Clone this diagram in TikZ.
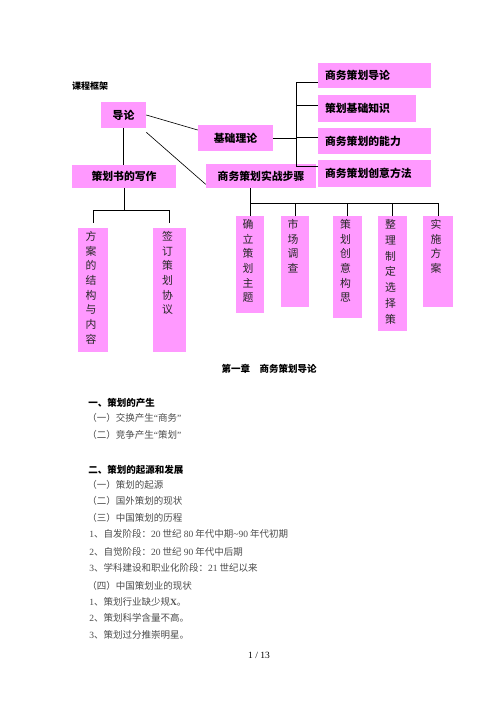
\documentclass[tikz,border=0pt]{standalone}
\usepackage{fontspec}
\setmainfont{Noto Sans CJK SC}
\newfontfamily\timesf{Liberation Serif}
\usepackage{tikz}
\usetikzlibrary{calc}
\definecolor{boxpink}{HTML}{FF99FF}
\definecolor{bodygray}{gray}{0.3}
\newcommand{\tnr}[1]{{\timesf #1}}

\begin{document}
\begin{tikzpicture}[x=1.2pt, y=-1.2pt, line width=0.75pt,
        box/.style={fill=boxpink, inner sep=0pt, font=\fontsize{13pt}{15pt}\selectfont\bfseries},
        rbox/.style={box, align=left, inner xsep=8.4pt},
        vbox/.style={fill=boxpink, inner sep=0pt},
        vtext/.style={anchor=north, align=center, inner sep=0pt, xshift=-2.4pt, yshift=-4pt,
            text=black!85, font=\fontsize{13pt}{17.6pt}\selectfont},
        body/.style={anchor=west, inner sep=0pt, text=bodygray, font=\fontsize{11.4pt}{13pt}\selectfont},
        bhead/.style={body, text=black, font=\fontsize{11.4pt}{13pt}\selectfont\bfseries}]
    \fill[white] (0,0) rectangle (496,702);
    \useasboundingbox (0,0) rectangle (496,702);

    \node[bhead, anchor=center, font=\fontsize{10.8pt}{12pt}\selectfont\bfseries] (kuangjia) at (90,86) {课程框架};

    % top row
    \node[box, minimum width=54pt, minimum height=31.2pt] (daolun) at (123.5,115) {导论};
    \node[box, minimum width=90pt, minimum height=31.2pt] (jichu) at (235.5,138) {基础理论};
    \node[box, minimum width=124.8pt, minimum height=27.6pt] (xiezuo) at (124,176.5) {策划书的写作};
    \node[box, minimum width=132pt, minimum height=28.8pt] (shizhan) at (261,176) {商务策划实战步骤};

    \node[rbox, text width=118.8pt, minimum height=30pt] (r1) at (374.5,75.5) {商务策划导论};
    \node[rbox, text width=100.8pt, minimum height=32.4pt] (r2) at (367,108.5) {策划基础知识};
    \node[rbox, text width=118.8pt, minimum height=31.2pt] (r3) at (374.5,141) {商务策划的能力};
    \node[rbox, text width=118.8pt, minimum height=32.4pt] (r4) at (374.5,173.5) {商务策划创意方法};

    % vertical boxes
    \node[vbox, minimum width=36pt, minimum height=148.8pt] (fa) at (93,290) {};
    \node[vbox, minimum width=39.6pt, minimum height=148.8pt] (qd) at (169.5,290) {};
    \node[vbox, minimum width=33.6pt, minimum height=116.4pt] (s1) at (250,264.5) {};
    \node[vbox, minimum width=33.6pt, minimum height=109.2pt] (s2) at (295,261.5) {};
    \node[vbox, minimum width=34.8pt, minimum height=122.4pt] (s3) at (347.5,267) {};
    \node[vbox, minimum width=34.8pt, minimum height=138pt] (s4) at (392.5,273.5) {};
    \node[vbox, minimum width=36pt, minimum height=109.2pt] (s5) at (438,261.5) {};

    \node[vtext] (fat) at (fa.north) {方\\案\\的\\结\\构\\与\\内\\容};
    \node[vtext] (qdt) at (qd.north) {签\\订\\策\\划\\协\\议};
    \node[vtext] (s1t) at (s1.north) {确\\立\\策\\划\\主\\题};
    \node[vtext] (s2t) at (s2.north) {市\\场\\调\\查};
    \node[vtext] (s3t) at (s3.north) {策\\划\\创\\意\\构\\思};
    \node[vtext, font=\fontsize{13pt}{19pt}\selectfont] (s4t) at (s4.north) {整\\理\\制\\定\\选\\择\\策};
    \node[vtext] (s5t) at (s5.north) {实\\施\\方\\案};

    % connectors
    \draw (daolun.east) -- ([yshift=9.6pt]jichu.west);
    \draw ([yshift=-4.8pt]daolun.south east) -- ([yshift=4.8pt]shizhan.south west);
    \draw (daolun.south) -- (daolun.south |- xiezuo.north);

    \draw (jichu.east) -- ++(23,0) coordinate (sp);
    \draw ([yshift=-7.8pt]r1.west -| sp) -- ([yshift=9pt]r4.west -| sp);
    \foreach \n/\s in {r1/-7.8pt, r2/4.2pt, r3/4.8pt, r4/9pt}
        \draw ([yshift=\s]\n.west -| sp) -- ([yshift=\s]\n.west);

    \draw (xiezuo.south) -- ++(0,22) coordinate (xb);
    \draw (fa.north |- xb) -- (qd.north |- xb);
    \foreach \n in {fa,qd}
        \draw (\n.north |- xb) -- ([yshift=6pt]\n.north);

    \draw (s1.north |- shizhan.south) -- ++(0,15) coordinate (sb);
    \draw (sb) -- (s5.north |- sb);
    \foreach \i in {1,...,5}
        \draw (s\i.north |- sb) -- (s\i.north);

    % text below
    \node[bhead, anchor=center] (zhang) at (269,369) {第一章　商务策划导论};
    \node[bhead] (a1) at (88,403) {一、策划的产生};
    \node[body] (a2) at (87,418) {（一）交换产生\tnr{“}商务\tnr{”}};
    \node[body] (a3) at (87,435) {（二）竞争产生\tnr{“}策划\tnr{”}};
    \node[bhead] (b1) at (88,470) {二、策划的起源和发展};
    \node[body] (b2) at (87,485) {（一）策划的起源};
    \node[body] (b3) at (87,501) {（二）国外策划的现状};
    \node[body] (b4) at (87,518) {（三）中国策划的历程};
    \node[body] (b5) at (89,534) {\tnr{1}、自发阶段：\tnr{20} 世纪 \tnr{80} 年代中期\tnr{\textasciitilde 90} 年代初期};
    \node[body] (b6) at (89,552) {\tnr{2}、自觉阶段：\tnr{20} 世纪 \tnr{90} 年代中后期};
    \node[body] (b7) at (89,568) {\tnr{3}、学科建设和职业化阶段：\tnr{21} 世纪以来};
    \node[body] (b8) at (87,586) {（四）中国策划业的现状};
    \node[body] (b9) at (89,602) {\tnr{1}、策划行业缺少规\tnr{\bfseries X}。};
    \node[body] (b10) at (89,618) {\tnr{2}、策划科学含量不高。};
    \node[body] (b11) at (89,635) {\tnr{3}、策划过分推崇明星。};
    \node[body, anchor=center, text=black] (page) at (259,655) {\tnr{1 / 13}};
\end{tikzpicture}
\end{document}
